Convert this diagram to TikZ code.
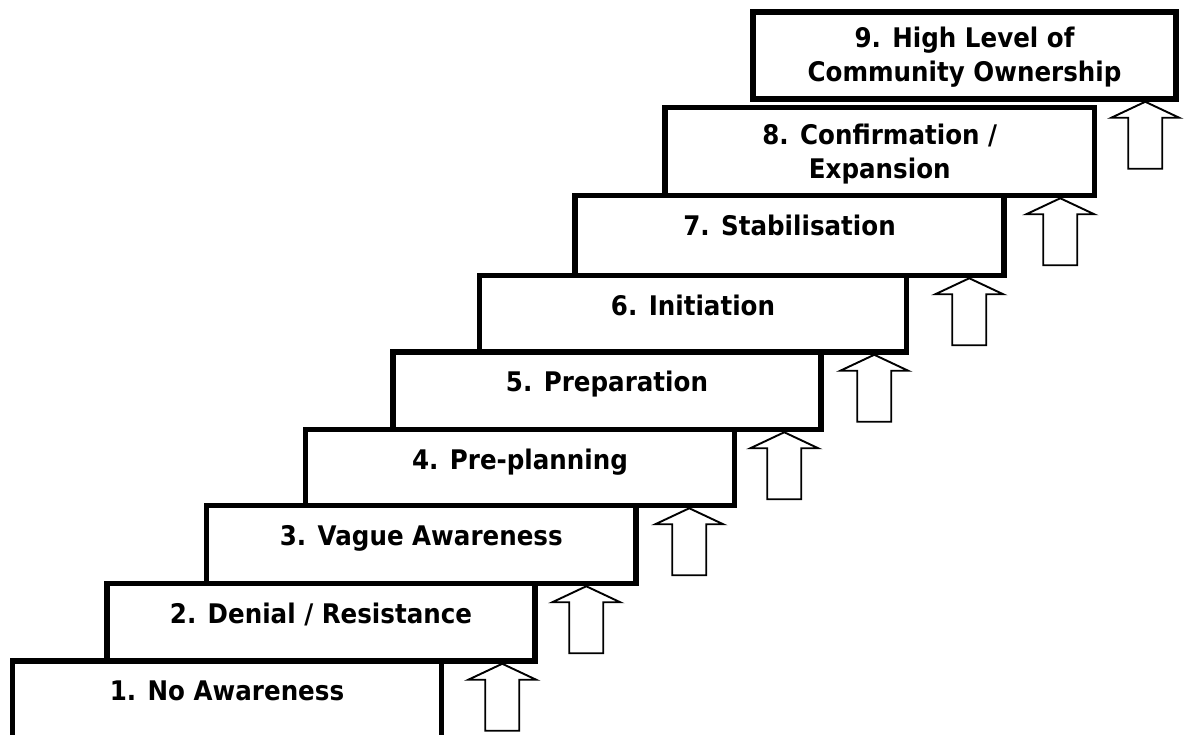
\documentclass[tikz,border=0pt]{standalone}
\usepackage{fontspec}
\newfontfamily\stairfont{DejaVu Sans}[FakeStretch=0.91]
\begin{document}
\begin{tikzpicture}[x=1pt,y=-1pt,
  stepbox/.style={draw=black, line width=5.5pt, inner sep=0pt},
  steplabel/.style={font=\stairfont\bfseries\fontsize{27}{34}\selectfont, inner sep=0pt, anchor=base, align=center},
  uparrow/.pic={\draw[line width=1.9pt, fill=white, line join=miter]
     (0,0) -- (34,16) -- (17,16) -- (17,67) -- (-17,67) -- (-17,16) -- (-34,16) -- cycle;}
]
\clip (0,0) rectangle (1188,734);
\fill[white] (0,0) rectangle (1188,734);
% boxes
\node[stepbox, minimum width=429pt,   minimum height=89pt]   (b1) at (227,705.5)   {};
\node[stepbox, minimum width=428pt,   minimum height=77.5pt] (b2) at (321,622.25)  {};
\node[stepbox, minimum width=429.5pt, minimum height=78pt]   (b3) at (421.25,544.5) {};
\node[stepbox, minimum width=429pt,   minimum height=76pt]   (b4) at (520,467.5)   {};
\node[stepbox, minimum width=428pt,   minimum height=77.5pt] (b5) at (607,390.75)  {};
\node[stepbox, minimum width=427pt,   minimum height=76.5pt] (b6) at (693,313.75)  {};
\node[stepbox, minimum width=429pt,   minimum height=80pt]   (b7) at (789.5,235.5) {};
\node[stepbox, minimum width=429.5pt, minimum height=88pt]   (b8) at (879.75,151.5) {};
\node[stepbox, minimum width=423pt,   minimum height=87pt]   (b9) at (964.5,55.5)  {};
% labels
\node[steplabel] (t1) at ([yshift=-42.5pt]b1.north) {1. No Awareness};
\node[steplabel] (t2) at ([yshift=-42.5pt]b2.north) {2. Denial / Resistance};
\node[steplabel] (t3) at ([yshift=-42.5pt]b3.north) {3. Vague Awareness};
\node[steplabel] (t4) at ([yshift=-42.5pt]b4.north) {4. Pre-planning};
\node[steplabel] (t5) at ([yshift=-42.5pt]b5.north) {5. Preparation};
\node[steplabel] (t6) at ([yshift=-42.5pt]b6.north) {6. Initiation};
\node[steplabel] (t7) at ([yshift=-42.5pt]b7.north) {7. Stabilisation};
\node[steplabel] (t8) at ([yshift=-74pt]b8.north) {8. Confirmation /\\Expansion};
\node[steplabel] (t9) at ([yshift=-72.5pt]b9.north) {9. High Level of\\Community Ownership};
% arrows
\pic at ([xshift=-35.5pt]b2.south east) {uparrow};
\pic at ([xshift=-52.5pt]b3.south east) {uparrow};
\pic at ([xshift=-48pt]b4.south east) {uparrow};
\pic at ([xshift=-39.5pt]b5.south east) {uparrow};
\pic at ([xshift=-35pt]b6.south east) {uparrow};
\pic at ([xshift=-37.5pt]b7.south east) {uparrow};
\pic at ([xshift=-37pt]b8.south east) {uparrow};
\pic at ([xshift=-33.5pt]b9.south east) {uparrow};
\end{tikzpicture}
\end{document}
